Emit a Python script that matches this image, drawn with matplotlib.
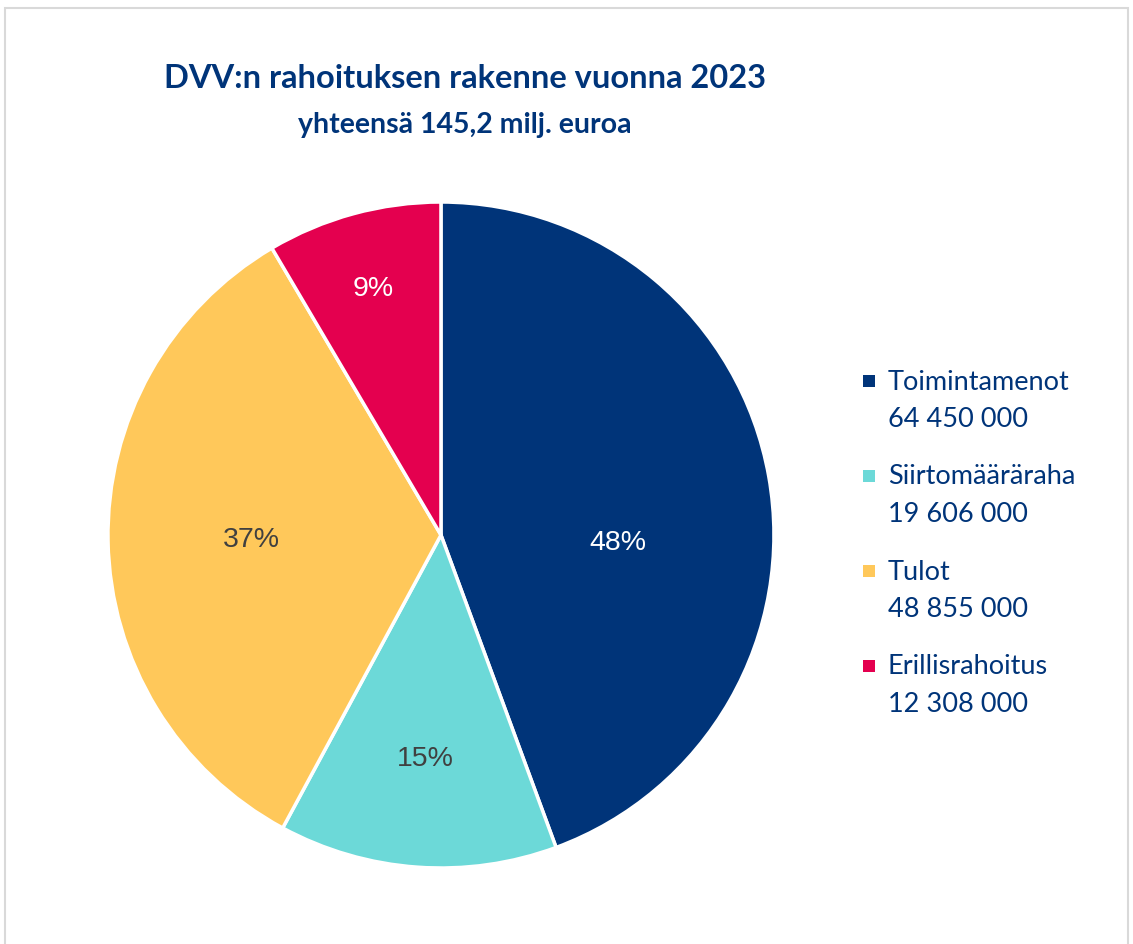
import matplotlib
matplotlib.use('Agg')
import matplotlib.pyplot as plt
from matplotlib.patches import Rectangle
import numpy as np

# data
categories = ['Toimintamenot', 'Siirtomääräraha', 'Tulot', 'Erillisrahoitus']
amounts = [64450000, 19606000, 48855000, 12308000]
pct_labels = ['48%', '15%', '37%', '9%']
colours = ['#003479', '#6cd9d8', '#ffc85a', '#e4004f']
pct_colours = ['white', '#404040', '#404040', 'white']

title = "DVV:n rahoituksen rakenne vuonna 2023"
subtitle = "yhteensä 145,2 milj. euroa"
navy = '#003479'

fig = plt.figure(figsize=(11.33, 9.45), dpi=100)

# light frame round the chart
fig.add_artist(Rectangle((5/1133, -0.05), 1123/1133, 1.05 - 9/945,
                         transform=fig.transFigure, fill=False,
                         edgecolor='#d9d9d9', linewidth=1.5))

ax = fig.add_axes([0.0953, 0.0804, 0.5878, 0.7048])
wedges, _ = ax.pie(amounts, colors=colours, startangle=90, counterclock=False,
                   radius=1.0, wedgeprops=dict(edgecolor='white', linewidth=2.5))
ax.set_xlim(-1, 1)
ax.set_ylim(-1, 1)
ax.set_aspect('equal')
ax.axis('off')

# percent labels at slice mid angles
dist = [0.54, 0.67, 0.57, 0.77]
for i, w in enumerate(wedges):
    mid = np.deg2rad((w.theta1 + w.theta2) / 2)
    x = dist[i] * np.cos(mid)
    y = dist[i] * np.sin(mid)
    if i == 0:
        y = -0.02
    ax.text(x, y, pct_labels[i], ha='center', va='center', fontsize=20.5,
            color=pct_colours[i], family='Liberation Sans')

fig.text(465/1133, 1 - 78/945, title, ha='center', va='center', fontsize=23.5,
         fontweight='bold', color=navy, family='Lato')
fig.text(465/1133, 1 - 125/945, subtitle, ha='center', va='center', fontsize=20.5,
         fontweight='bold', color=navy, family='Lato')

# legend drawn by hand, two lines per entry
for i, cat in enumerate(categories):
    y0 = 382 + 95 * i
    val = f"{amounts[i]:,}".replace(',', ' ')
    fig.add_artist(Rectangle((863/1133, 1 - (y0 + 6)/945), 12/1133, 12/945,
                             transform=fig.transFigure, facecolor=colours[i],
                             edgecolor='none'))
    fig.text(888/1133, 1 - y0/945, cat, ha='left', va='center', fontsize=19.5,
             color=navy, family='Lato')
    fig.text(888/1133, 1 - (y0 + 38)/945, val, ha='left', va='center', fontsize=19.5,
             color=navy, family='Lato')

fig.savefig('out.png', dpi=100)
plt.close()
